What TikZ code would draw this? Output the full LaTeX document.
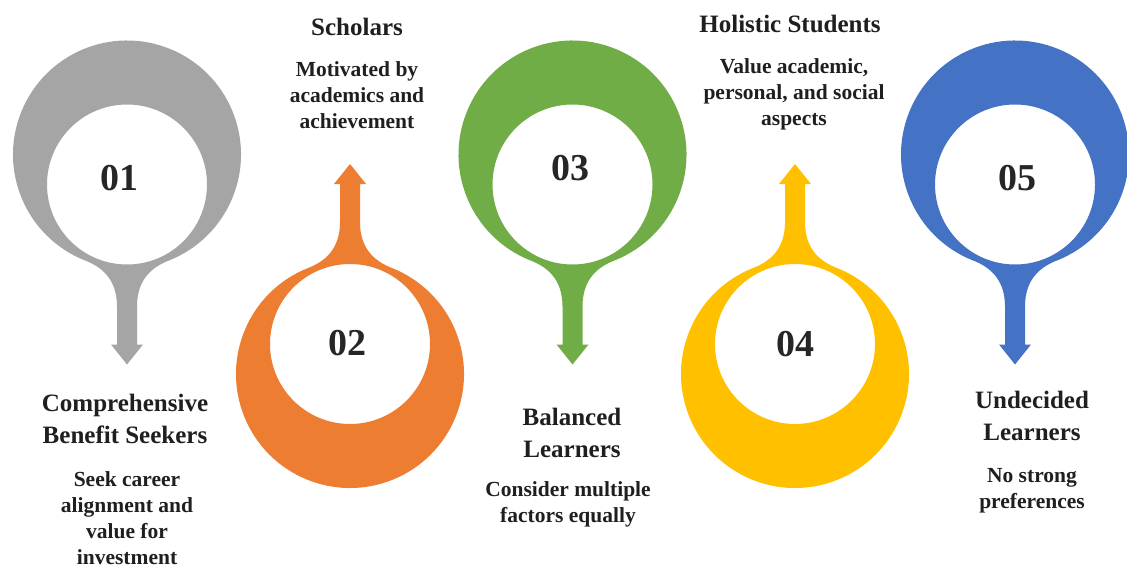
\documentclass[tikz,border=0pt]{standalone}
\usepackage{fontspec}
\setmainfont{Liberation Serif}
\definecolor{cgray}{HTML}{A5A5A5}
\definecolor{corange}{HTML}{ED7D31}
\definecolor{cgreen}{HTML}{70AD47}
\definecolor{cyellow}{HTML}{FFC000}
\definecolor{cblue}{HTML}{4472C4}
\newcommand{\dropshape}[4]{%
  \begin{scope}[shift={(#1,#2)}, yscale=#3]
    \fill[#4, even odd rule] (112:114) arc[start angle=112, end angle=428, radius=114]
      .. controls (26,112) and (10,124) .. (10,152) -- (10,190) -- (16,190) -- (0,210)
      -- (-16,190) -- (-10,190) -- (-10,152) .. controls (-10,124) and (-26,112) .. cycle
      (0,30) circle[radius=80];
  \end{scope}}
\tikzset{
  num/.style={font=\fontsize{38}{40}\selectfont\bfseries, inner sep=0, text=black!85},
  ttl/.style={font=\fontsize{25}{32}\selectfont\bfseries, align=center, anchor=base, inner sep=0, text=black!88},
  desc/.style={font=\fontsize{21.5}{26}\selectfont\bfseries, align=center, anchor=base, inner sep=0, text=black!88}
}
\begin{document}
\begin{tikzpicture}[x=1pt, y=-1pt]
\useasboundingbox[fill=white] (0,0) rectangle (1127,570);
\dropshape{127}{154.5}{1}{cgray}
\dropshape{350}{374}{-1}{corange}
\dropshape{572.5}{154.5}{1}{cgreen}
\dropshape{795}{374}{-1}{cyellow}
\dropshape{1015}{154.5}{1}{cblue}
\node[num] (n1) at (119,178) {01};
\node[num] (n2) at (347,343) {02};
\node[num] (n3) at (570,168) {03};
\node[num] (n4) at (795,344) {04};
\node[num] (n5) at (1017,178) {05};
\node[ttl] (t1) at (125,443) {Comprehensive\\Benefit Seekers};
\node[desc] (d1) at (127,564) {Seek career\\alignment and\\value for\\investment};
\node[ttl] (t2) at (357,35) {Scholars};
\node[desc] (d2) at (357,128) {Motivated by\\academics and\\achievement};
\node[ttl] (t3) at (572,457) {Balanced\\Learners};
\node[desc] (d3) at (568,522) {Consider multiple\\factors equally};
\node[ttl] (t4) at (790,32) {Holistic Students};
\node[desc] (d4) at (794,125) {Value academic,\\personal, and social\\aspects};
\node[ttl] (t5) at (1032,440) {Undecided\\Learners};
\node[desc] (d5) at (1032,508) {No strong\\preferences};
\end{tikzpicture}
\end{document}
